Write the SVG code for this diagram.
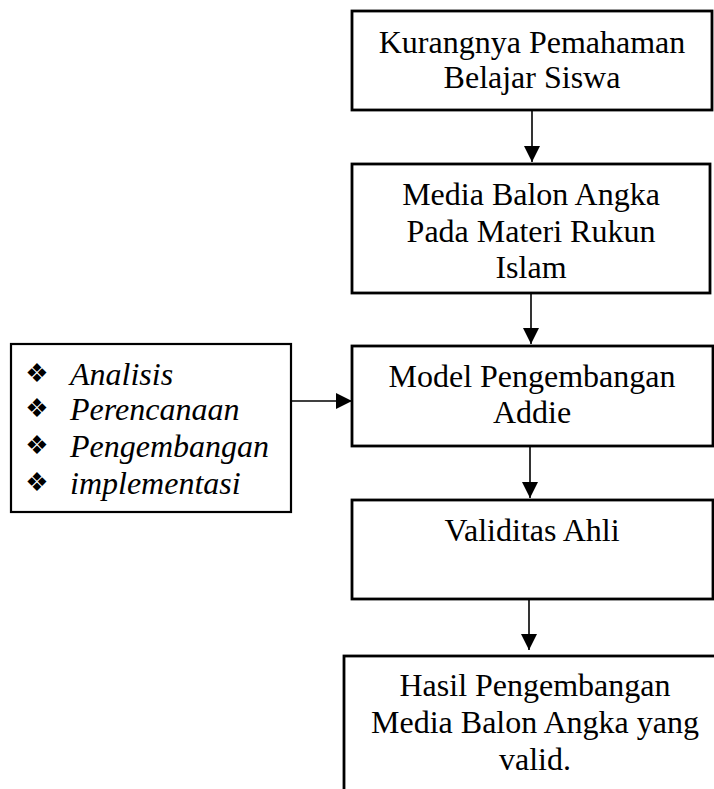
<svg xmlns="http://www.w3.org/2000/svg" width="714" height="789" viewBox="0 0 714 789">
<style>
.box{fill:#fff;stroke:#000;stroke-width:2.8}
.lbox{fill:#fff;stroke:#000;stroke-width:2.2}
.t{font-family:"Liberation Serif","Times New Roman",serif;font-size:32px;fill:#000;text-anchor:middle}
.it{font-family:"Liberation Serif","Times New Roman",serif;font-size:32px;font-style:italic;fill:#000}
.bul{font-family:"DejaVu Sans",sans-serif;font-size:26px;fill:#000;text-anchor:middle}
.con{stroke:#000;stroke-width:1.6;fill:none;marker-end:url(#ah)}
</style>
<defs>
<marker id="ah" viewBox="0 0 16 16" refX="16" refY="8" markerWidth="16" markerHeight="16" markerUnits="userSpaceOnUse" orient="auto">
<path d="M0,0 L16,8 L0,16 z" fill="#000"/>
</marker>
</defs>
<rect width="714" height="789" fill="#fff"/>
<g id="connectors">
<line class="con" x1="532" y1="111" x2="532" y2="162"/>
<line class="con" x1="531" y1="293" x2="531" y2="344"/>
<line class="con" x1="530" y1="446" x2="530" y2="498"/>
<line class="con" x1="529" y1="599" x2="529" y2="650"/>
<line class="con" x1="291" y1="401" x2="352" y2="401"/>
</g>
<g id="n1">
<rect class="box" x="352" y="11" width="360" height="99"/>
<text class="t" x="532" y="53">Kurangnya Pemahaman</text>
<text class="t" x="532" y="88">Belajar Siswa</text>
</g>
<g id="n2">
<rect class="box" x="352" y="164" width="358" height="129"/>
<text class="t" x="531" y="205">Media Balon Angka</text>
<text class="t" x="531" y="242">Pada Materi Rukun</text>
<text class="t" x="531" y="278">Islam</text>
</g>
<g id="n3">
<rect class="box" x="352" y="346" width="361" height="100"/>
<text class="t" x="532" y="387">Model Pengembangan</text>
<text class="t" x="532" y="423">Addie</text>
</g>
<g id="n4">
<rect class="box" x="352" y="500" width="361" height="99"/>
<text class="t" x="532" y="541">Validitas Ahli</text>
</g>
<g id="n5">
<rect class="box" x="344" y="656" width="390" height="150"/>
<text class="t" x="535" y="696">Hasil Pengembangan</text>
<text class="t" x="535" y="733">Media Balon Angka yang</text>
<text class="t" x="535" y="770">valid.</text>
</g>
<g id="n6">
<rect class="lbox" x="11" y="344" width="280" height="168"/>
<text class="bul" x="37" y="382">❖</text>
<text class="it" x="70" y="385">Analisis</text>
<text class="bul" x="37" y="417">❖</text>
<text class="it" x="70" y="420">Perencanaan</text>
<text class="bul" x="37" y="454">❖</text>
<text class="it" x="70" y="457">Pengembangan</text>
<text class="bul" x="37" y="491">❖</text>
<text class="it" x="70" y="494">implementasi</text>
</g>
</svg>
